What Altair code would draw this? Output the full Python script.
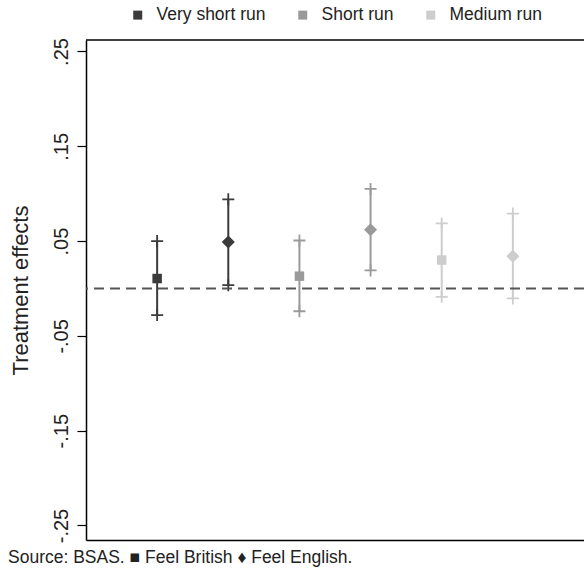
import altair as alt
import pandas as pd

# Treatment effects by horizon and identity outcome, with 95% confidence bounds
slot = [1, 2, 3, 4, 5, 6]
period = ["Very short run", "Very short run", "Short run", "Short run",
          "Medium run", "Medium run"]
outcome = ["Feel British", "Feel English"] * 3
estimate = [0.0105, 0.049, 0.013, 0.062, 0.030, 0.034]
lower = [-0.028, 0.0035, -0.024, 0.019, -0.0088, -0.0105]
upper = [0.050, 0.094, 0.0506, 0.105, 0.0686, 0.079]

period_order = ["Very short run", "Short run", "Medium run"]
period_colors = ["#3b3b3b", "#9a9a9a", "#cdcdcd"]
y_ticks = [-0.25, -0.15, -0.05, 0.05, 0.15, 0.25]

df = pd.DataFrame({
    "slot": slot, "period": period, "outcome": outcome,
    "estimate": estimate, "lower": lower, "upper": upper,
})

FONT = "Liberation Sans"
W, H = 498, 500

x_enc = alt.X("slot:Q", scale=alt.Scale(domain=[0, 6.92]),
              axis=alt.Axis(title=None, labels=False, ticks=False, grid=False,
                            domain=True, domainColor="#000", domainWidth=1.5))
y_scale = alt.Scale(domain=[-0.2653, 0.2621], nice=False, zero=False)
y_axis = alt.Axis(
    title="Treatment effects", values=y_ticks, grid=False,
    labelExpr="(datum.value < 0 ? '-' : '') + replace(format(abs(datum.value), '.2f'), '0.', '.')",
    labelAngle=270, labelAlign="center", labelBaseline="bottom",
    labelPadding=6, labelFontSize=20, labelColor="#222", labelFont=FONT,
    tickSize=9, tickColor="#000", tickWidth=1.2,
    domainColor="#000", domainWidth=1.5,
    titleFontSize=22, titleFontWeight="normal", titleColor="#222",
    titleFont=FONT, titlePadding=19,
)

period_legend = alt.Legend(
    title=None, orient="none", legendX=43, legendY=-34,
    direction="horizontal", symbolType="square", symbolSize=81,
    symbolStrokeWidth=0, labelFontSize=17.5, labelFont=FONT,
    labelColor="#222", labelOffset=10, columnPadding=28,
)
color_enc = alt.Color("period:N",
                      scale=alt.Scale(domain=period_order, range=period_colors),
                      legend=period_legend)

base = alt.Chart(df)

spikes = base.mark_rule(strokeWidth=2).encode(
    x=x_enc,
    y=alt.Y("lower:Q", scale=y_scale, axis=y_axis),
    y2="upper:Q",
    color=color_enc,
)

plus = "M-1,0H1M0,-1V1"
cap_lo = base.mark_point(shape=plus, size=144, filled=False, strokeWidth=1.8, opacity=1).encode(
    x="slot:Q", y="lower:Q", color=color_enc,
)
cap_hi = base.mark_point(shape=plus, size=144, filled=False, strokeWidth=1.8, opacity=1).encode(
    x="slot:Q", y="upper:Q", color=color_enc,
)

points = base.mark_point(filled=True, opacity=1).encode(
    x="slot:Q",
    y="estimate:Q",
    color=color_enc,
    shape=alt.Shape("outcome:N",
                    scale=alt.Scale(domain=["Feel British", "Feel English"],
                                    range=["square", "diamond"]),
                    legend=None),
    size=alt.Size("outcome:N",
                  scale=alt.Scale(domain=["Feel British", "Feel English"],
                                  range=[90, 170]),
                  legend=None),
)

zero_line = alt.Chart(pd.DataFrame({"y": [0.0]})).mark_rule(
    color="#555", strokeWidth=2, strokeDash=[10, 6]
).encode(y="y:Q")

top_border = alt.Chart(pd.DataFrame({"y": [0]})).mark_rule(
    color="#000", strokeWidth=1.5
).encode(x=alt.value(0), x2=alt.value(W), y=alt.value(0))

chart = alt.layer(spikes, cap_lo, cap_hi, points, zero_line, top_border).properties(
    width=W, height=H,
    title=alt.TitleParams(
        "Source: BSAS. \u25a0 Feel British \u2666 Feel English.",
        orient="bottom", anchor="start", frame="bounds",
        fontSize=17.5, fontWeight="normal", font=FONT, color="#222",
        offset=6, dx=-1,
    ),
).configure(
    autosize=alt.AutoSizeParams(type="none"),
    padding={"left": 86, "top": 40, "right": 0, "bottom": 33},
    background="white",
).configure_view(stroke=None)

chart.save("out.html", embed_options={"renderer": "svg", "actions": False})
